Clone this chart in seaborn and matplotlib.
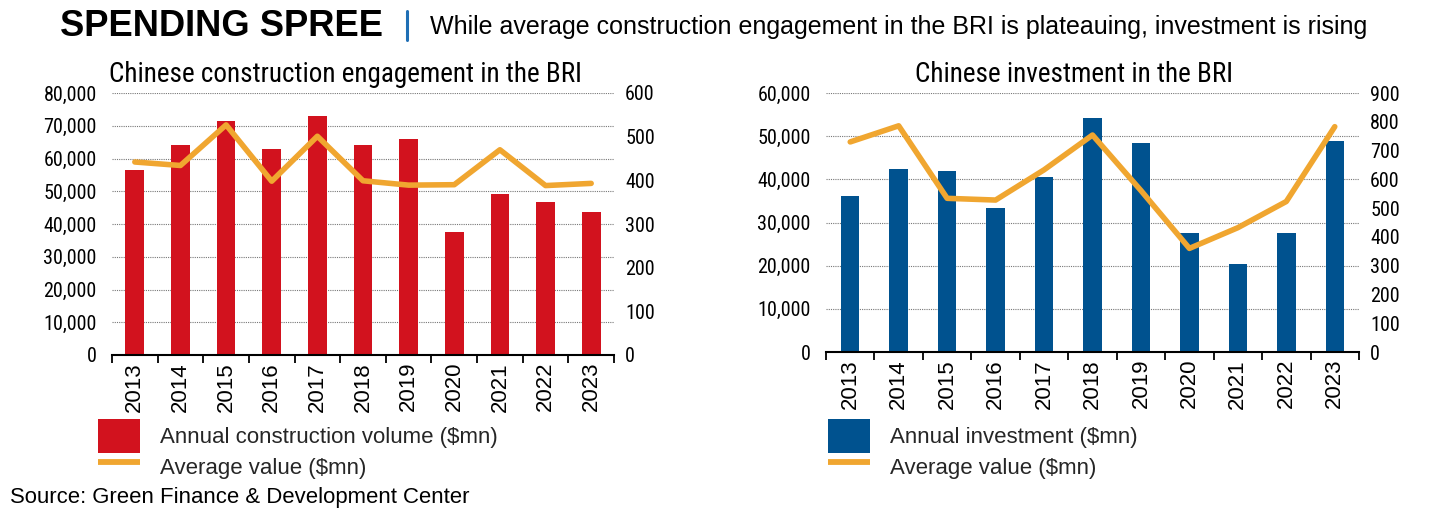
import numpy as np
import matplotlib
matplotlib.use("Agg")
import matplotlib.pyplot as plt
from matplotlib import font_manager
from matplotlib.patches import Patch
from matplotlib.lines import Line2D
from matplotlib.ticker import FuncFormatter, FixedLocator, MultipleLocator
import seaborn as sns

# ---------------- data ----------------
years = ["2013", "2014", "2015", "2016", "2017", "2018", "2019", "2020", "2021", "2022", "2023"]
construction_volume = [56400, 64000, 71300, 62900, 73100, 64100, 66000, 37600, 49100, 46800, 43800]
construction_avg = [442, 434, 527, 398, 501, 399, 389, 390, 470, 388, 393]
investment_volume = [36200, 42300, 41900, 33400, 40500, 54300, 48500, 27600, 20300, 27600, 48900]
investment_avg = [730, 786, 534, 528, 633, 754, 561, 360, 432, 523, 783]

main_title = "SPENDING SPREE"
subtitle = "While average construction engagement in the BRI is plateauing, investment is rising"
left_title = "Chinese construction engagement in the BRI"
right_title = "Chinese investment in the BRI"
left_bar_label = "Annual construction volume ($mn)"
right_bar_label = "Annual investment ($mn)"
line_label = "Average value ($mn)"
source = "Source: Green Finance & Development Center"

RED = "#D2121E"
BLUE = "#00528F"
ORANGE = "#F0A630"

sns.set_theme(style="white")

available = {f.name for f in font_manager.fontManager.ttflist}
def pick(cands):
    for c in cands:
        if c in available:
            return c
    return "DejaVu Sans"

NARROW = pick(["Liberation Sans Narrow", "Roboto Condensed", "Open Sans Condensed", "DejaVu Sans"])
REG = pick(["Liberation Sans", "Roboto", "DejaVu Sans"])
plt.rcParams["font.family"] = [REG, "DejaVu Sans"]

W, H = 1431, 522
fig = plt.figure(figsize=(W / 100, H / 100), dpi=100)

def fx(px):
    return px / W

def fy(py):
    return 1 - py / H

def make_panel(rect, vols, avgs, color, lmax, lstep, rmax, rstep, bw):
    ax = fig.add_axes(rect)
    sns.barplot(x=years, y=vols, color=color, saturation=1, width=bw, ax=ax,
                edgecolor="none", linewidth=0)
    ax2 = ax.twinx()
    sns.pointplot(x=years, y=avgs, color=ORANGE, markers="", ax=ax2,
                  linewidth=4.0, solid_capstyle="round", solid_joinstyle="round")
    ax.set_xlim(-0.5, len(years) - 0.5)
    ax.set_ylim(0, lmax)
    ax2.set_ylim(0, rmax)
    ax.yaxis.set_major_locator(MultipleLocator(lstep))
    ax2.yaxis.set_major_locator(MultipleLocator(rstep))
    ax.yaxis.set_major_formatter(FuncFormatter(lambda v, p: f"{v:,.0f}"))
    ax2.yaxis.set_major_formatter(FuncFormatter(lambda v, p: f"{v:,.0f}"))
    ax.set_axisbelow(True)
    ax.grid(axis="y", linestyle=(0, (1, 1)), color="#777777", linewidth=0.8)
    ax.grid(axis="x", visible=False)
    ax2.grid(False)
    for s in ["top", "left", "right"]:
        ax.spines[s].set_visible(False)
    for s in ["top", "left", "right", "bottom"]:
        ax2.spines[s].set_visible(False)
    ax.spines["bottom"].set_color("black")
    ax.spines["bottom"].set_linewidth(1.5)
    ax.set_xlabel("")
    ax.set_ylabel("")
    ax2.set_ylabel("")
    ax.xaxis.set_minor_locator(FixedLocator(np.arange(-0.5, len(years), 1.0)))
    ax.tick_params(axis="x", which="major", length=0, pad=5, labelsize=16,
                   labelrotation=90, colors="black")
    ax.tick_params(axis="x", which="minor", length=6, width=1.3, color="black",
                   direction="out", bottom=True)
    for t in ax.get_xticklabels():
        t.set_fontfamily([REG, "DejaVu Sans"])
    ax.tick_params(axis="y", length=0, pad=11, labelsize=14.5, colors="black")
    ax2.tick_params(axis="y", length=0, pad=8, labelsize=14.5, colors="black")
    for t in ax.get_yticklabels() + ax2.get_yticklabels():
        t.set_fontfamily([NARROW, "DejaVu Sans"])
    return ax, ax2

axL, axL2 = make_panel([fx(112), fy(355), fx(614) - fx(112), fy(93) - fy(355)],
                       construction_volume, construction_avg, RED,
                       80000, 10000, 600, 100, 0.41)
axR, axR2 = make_panel([fx(826), fy(352), fx(1359) - fx(826), fy(93) - fy(352)],
                       investment_volume, investment_avg, BLUE,
                       60000, 10000, 900, 100, 0.38)

# titles
fig.text(fx(60), fy(27), main_title, fontsize=26.2, fontweight="bold",
         family=[REG, "DejaVu Sans"], va="center", ha="left", color="black")
fig.add_artist(Line2D([fx(407), fx(407)], [fy(11), fy(40)], color="#1F6FB5",
                      linewidth=2.2, transform=fig.transFigure))
fig.text(fx(430), fy(27), subtitle, fontsize=18, family=[REG, "DejaVu Sans"],
         va="center", ha="left", color="black")
fig.text(fx(345), fy(75), left_title, fontsize=19.5, family=[NARROW, "DejaVu Sans"],
         va="center", ha="center", color="black")
fig.text(fx(1074), fy(75), right_title, fontsize=19.5, family=[NARROW, "DejaVu Sans"],
         va="center", ha="center", color="black")

# legends
def add_legend(x, y, bar_color, bar_label):
    handles = [Patch(facecolor=bar_color, edgecolor="none"),
               Line2D([0], [0], color=ORANGE, linewidth=4.2, solid_capstyle="butt")]
    leg = fig.legend(handles, [bar_label, line_label], loc="upper left",
                     bbox_to_anchor=(fx(x), fy(y)), bbox_transform=fig.transFigure,
                     frameon=False, handlelength=1.9, handleheight=1.95,
                     handletextpad=0.9, labelspacing=-0.1, borderpad=0,
                     borderaxespad=0, prop={"family": [REG, "DejaVu Sans"], "size": 16})
    return leg

add_legend(98, 419, RED, left_bar_label)
add_legend(828, 419, BLUE, right_bar_label)

fig.text(fx(10), fy(498), source, fontsize=15.9, family=[REG, "DejaVu Sans"],
         va="center", ha="left", color="black")

fig.savefig("out.png", dpi=100)
